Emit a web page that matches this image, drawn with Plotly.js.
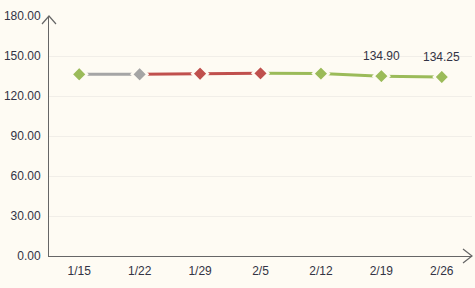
<!DOCTYPE html>
<html><head><meta charset="utf-8">
<script src="https://cdn.plot.ly/plotly-3.0.1.min.js"></script>
<style>html,body{margin:0;padding:0;background:#FEFBF3;}</style>
</head><body>
<div id="chart" style="width:475px;height:288px;"></div>
<script>
const categories = ["1/15","1/22","1/29","2/5","2/12","2/19","2/26"];
const values = [136.3, 136.3, 136.7, 137.0, 136.8, 134.90, 134.25];
const pointColors = ["#9BBB59","#A5A5A5","#C0504D","#C0504D","#9BBB59","#9BBB59","#9BBB59"];
// segment i connects point i to point i+1
const segmentColors = ["#A5A5A5","#C0504D","#C0504D","#9BBB59","#9BBB59","#9BBB59"];
const labels = ["","","","","","134.90","134.25"];
const yTicks = [0,30,60,90,120,150,180];

const traces = [];
for (let i = 0; i < segmentColors.length; i++) {
  traces.push({
    x: [categories[i], categories[i+1]],
    y: [values[i], values[i+1]],
    type: 'scatter', mode: 'lines',
    line: {color: segmentColors[i], width: 3},
    hoverinfo: 'skip', showlegend: false
  });
}
traces.push({
  x: categories, y: values, type: 'scatter', mode: 'markers',
  marker: {symbol: 'diamond', size: 12, color: pointColors, line: {color: '#FEFBF3', width: 2.5}},
  showlegend: false, cliponaxis: false
});

const annotations = [];
labels.forEach((t, i) => {
  if (t) annotations.push({
    x: categories[i], y: values[i], xref: 'x', yref: 'y', text: t, showarrow: false,
    yshift: 20, font: {family: 'Liberation Sans, Arial, sans-serif', size: 12, color: '#333344'}
  });
});

const arrowColor = '#666666';
const layout = {
  width: 475, height: 288,
  margin: {l: 49, r: 3, t: 16, b: 32},
  paper_bgcolor: '#FEFBF3', plot_bgcolor: '#FEFBF3',
  font: {family: 'Liberation Sans, Arial, sans-serif', size: 12, color: '#333344'},
  xaxis: {
    type: 'category', categoryorder: 'array', categoryarray: categories,
    range: [-0.5, 6.5], showgrid: false, zeroline: false,
    showline: true, linecolor: arrowColor, linewidth: 1, ticks: '',
    tickfont: {size: 12, color: '#333344'}, ticklabelstandoff: 4
  },
  yaxis: {
    range: [0, 180], tickvals: yTicks, ticktext: yTicks.map(v => v.toFixed(2)),
    showgrid: true, gridcolor: '#F1EEE8', gridwidth: 1, zeroline: false,
    showline: true, linecolor: arrowColor, linewidth: 1, ticks: '',
    tickfont: {size: 12, color: '#333344'}, ticklabelstandoff: 5
  },
  annotations: annotations,
  shapes: [
    {type: 'path', xref: 'paper', yref: 'paper', xsizemode: 'pixel', ysizemode: 'pixel',
     xanchor: 0, yanchor: 1, path: 'M-7,-8 L0,0 L7,-8', line: {color: arrowColor, width: 1.2}},
    {type: 'path', xref: 'paper', yref: 'paper', xsizemode: 'pixel', ysizemode: 'pixel',
     xanchor: 1, yanchor: 0, path: 'M-9,7 L0,0 L-9,-7', line: {color: arrowColor, width: 1.2}}
  ]
};
Plotly.newPlot('chart', traces, layout, {displayModeBar: false, staticPlot: true});
</script>
</body></html>
